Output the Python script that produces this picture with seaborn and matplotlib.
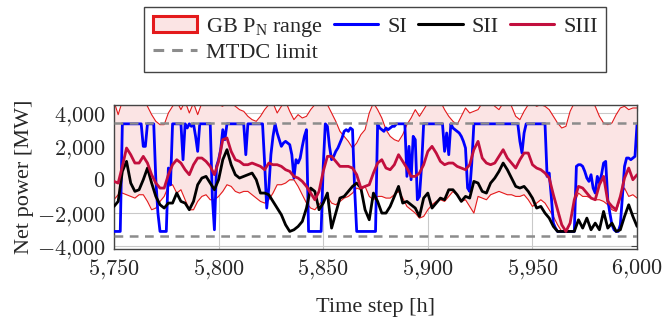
import numpy as np
import matplotlib
matplotlib.use("Agg")
import matplotlib.pyplot as plt
import matplotlib.ticker as mticker
from matplotlib.patches import Patch
from matplotlib.lines import Line2D
import seaborn as sns

# hourly time axis for SI, 2-hourly for the other series
t_si = np.arange(5750, 6001, 1)
t_2h = np.arange(5750, 6001, 2)

si = [
    -3100, -3100, -3100, -3100, 3350, 3350, 3350, 3350, 3350, 3350,   # 5750
    3350, 3350, 3350, 3350, 2000, 2000, 3350, 3350, 3350, 3350,       # 5760
    0, -2000, -3100, -3100, -3100, -3100, 700, -300, 3350, 3350,      # 5770
    3350, 3350, 3350, 1200, 3350, 3100, 3350, 3200, 3350, 2600,       # 5780
    1700, 3350, 3350, 3350, 3350, 3350, 3350, -1000, -3000, 800,      # 5790
    1200, 1800, 3000, 2400, 3350, 3350, 3350, 3350, 3350, 3350,       # 5800
    3350, 3350, 3350, 1500, 3350, 3350, 3350, 3350, 3350, 3350,       # 5810
    3350, 3350, 1000, -1700, -500, 1500, 2600, 3350, 2800, 2400,      # 5820
    2000, 2200, 2300, 2200, 2100, 1500, 100, 1200, 1000, 1300,        # 5830
    2000, 2600, 3000, -3100, -3100, -3100, -3100, -3100, -3100, -3100,  # 5840
    800, 3350, 3200, 2000, 1200, 1400, 1700, 1900, 2200, 2500,        # 5850
    2900, 3000, 2900, 3100, 3000, -500, -3100, -3100, -3100, -3100,   # 5860
    -3100, -3100, -3100, -3100, -3100, -3100, 3350, 3100, 3000, 2900,  # 5870
    3100, 3000, 3100, 3200, 3200, 3350, 3350, 3350, 3350, 3350,       # 5880
    200, 2000, 0, 2600, 2400, -1200, -1000, 800, 3350, 3350,          # 5890
    3350, 3350, 3350, 3350, 3350, 3350, 3350, 3350, 1700, 2800,       # 5900
    1500, 3350, 3100, 3000, 2900, 2800, 2600, 2300, 1900, -500,       # 5910
    -700, 1000, 3350, 3350, 3350, 3350, 3350, 3350, 3350, 3350,       # 5920
    3350, 3350, 3350, 3350, 3350, 3350, 3350, 3350, 3350, 3350,       # 5930
    3350, 3350, 3350, 3350, 2300, 1600, 2800, 3350, 3350, 3350,       # 5940
    3350, 3350, 3350, 3350, 3350, 3350, 3350, 200, 400, -1000,        # 5950
    -2600, -2900, -3100, -3100, -3100, -3100, -3100, -3100, -3100, -3100,  # 5960
    -3100, 800, 900, 900, 800, 500, 100, -100, 300, -500,             # 5970
    -800, 200, -200, 300, 1000, 1100, -1200, -2000, -2700, -3000,     # 5980
    -3100, -3100, -2700, -1000, 800, 1300, 1300, 1200, 1300, 1400,    # 5990
    3350,                                                             # 6000
]

sii = [
    -1600, -1300, 500, 1100, -200, -700, -600, 0, 700, -200,          # 5750
    -1000, -1500, -1700, -1400, -1400, -800, -1300, -1400, -1800, -1300,  # 5770
    -300, 100, 200, -200, -600, 0, 1200, 1800, 900, 300,              # 5790
    100, 200, 300, 400, 0, -800, -800, -900, -1300, -1700,            # 5810
    -2100, -2700, -3100, -3000, -2800, -2500, -1700, -500, -700, -1800,  # 5830
    -1400, -800, -2900, -2000, -1100, -1000, -700, -400, -200, -500,  # 5850
    -1800, -2400, -800, -1300, -2000, -2000, -1600, -1000, -400, -1400,  # 5870
    -1300, -1500, -1700, -2200, -1100, -800, -1700, -1400, -1100, -1200,  # 5890
    -600, -600, -900, -1300, -1000, -1100, -100, -200, -700, -800,    # 5910
    -200, 100, 500, 1000, 600, 100, -400, -500, -400, -700,           # 5930
    -1100, -1700, -1600, -2000, -2300, -2800, -3100, -3100, -3100, -3100,  # 5950
    -3100, -2400, -2900, -2300, -3000, -2600, -3000, -1900, -2900, -2600,  # 5970
    -3100, -3000, -2200, -1500, -2200, -2800,                         # 5990
]

siii = [
    -100, -200, 800, 1900, 1500, 1000, 1000, 1400, 1000, 300,         # 5750
    -200, -500, -500, 300, 900, 1200, 1000, 600, 300, 900,            # 5770
    1300, 1300, 1100, 800, 300, 1100, 2400, 2500, 1700, 1200,         # 5790
    1100, 900, 900, 1000, 900, 800, 600, 1000, 900, 900,              # 5810
    800, 600, 500, 200, 100, -100, -400, -800, -1200, -700,           # 5830
    500, 1400, 1400, 1100, 800, 800, 800, 700, 300, -500,             # 5850
    -400, -300, 400, 1000, 1200, 700, 600, 900, 1500, 1100,           # 5870
    700, 200, 200, 400, 900, 1700, 2000, 1600, 1100, 900,             # 5890
    1000, 1000, 800, 700, 600, 900, 1800, 2300, 1300, 1000,           # 5910
    900, 1000, 1400, 1800, 1300, 1000, 700, 1200, 1600, 1600,         # 5930
    900, 700, 600, 400, 100, -900, -1800, -2700, -3100, -2600,        # 5950
    -1200, -400, -500, -800, -1100, -1200, -300, 200, -1300, -1600,   # 5970
    -1800, -1000, 100, 700, 0, 300,                                   # 5990
]

gb_upper = [
    4700, 3900, 4700, 4800, 4800, 4700, 4800, 4800, 4400, 3900,       # 5750
    3500, 3300, 3300, 4000, 4400, 4700, 4200, 4700, 4000, 4600,       # 5770
    3900, 4600, 4500, 4800, 4900, 4500, 4400, 4900, 4600, 4400,       # 5790
    4200, 4100, 3800, 3600, 3500, 3800, 4200, 4500, 4600, 4000,       # 5810
    4400, 4700, 4100, 3600, 3900, 3700, 3800, 4200, 4500, 4600,       # 5830
    4700, 4500, 4000, 3500, 2900, 2600, 2300, 1900, 2200, 2700,       # 5850
    3000, 4000, 4600, 4200, 3700, 3000, 2600, 2400, 2300, 2700,       # 5870
    3300, 3700, 4200, 3800, 4200, 4600, 4800, 4500, 4700, 4200,       # 5890
    3800, 3500, 3300, 3800, 4300, 4000, 4100, 4200, 4600, 4800,       # 5910
    4700, 4400, 4200, 4600, 4800, 4400, 3800, 3600, 4100, 4500,       # 5930
    4600, 4400, 4500, 4400, 4200, 3800, 3400, 3100, 3200, 4100,       # 5950
    4600, 4800, 4900, 4800, 4700, 4400, 3800, 3400, 3300, 3400,       # 5970
    3900, 4300, 4400, 4200, 4300, 4300,                               # 5990
]

gb_lower = [
    -1200, -900, -800, -900, -1000, -1100, -900, -900, -1300, -1800,  # 5750
    -1700, -1300, -1000, -400, -300, -800, -600, -1200, -1800, -1800,  # 5770
    -1300, -1000, -900, -1200, -1200, -1000, -700, -300, -400, -700,  # 5790
    -800, -700, -700, -900, -1100, -1300, -1400, -1200, -800, -300,   # 5810
    -300, -200, 0, 0, -400, -900, -1400, -1700, -1800, -1500,         # 5830
    -1200, -1000, -1400, -1500, -1300, -1100, -1000, -800, -500, -600,  # 5850
    -400, -1000, -1200, -1000, -1000, -1100, -1100, -900, -700, -1100,  # 5870
    -1600, -1800, -2000, -2300, -2200, -1800, -1500, -1300, -1200, -1300,  # 5890
    -1000, -700, -900, -1300, -1200, -1600, -2000, -1000, -1100, -1200,  # 5910
    -900, -800, -700, -800, -900, -900, -1000, -1000, -900, -1200,    # 5930
    -1600, -1400, -1200, -1400, -1800, -2200, -2700, -3100, -3100, -2600,  # 5950
    -1400, -800, -1000, -1000, -1100, -1200, -1200, -1300, -1500, -1800,  # 5970
    -1900, -1100, -500, -1000, -900, -1100,                           # 5990
]

mtdc_limit = 3400
x_ticks = [5750, 5800, 5850, 5900, 5950, 6000]
y_ticks = [-4000, -2000, 0, 2000, 4000]

sns.set_theme(style="white")
plt.rcParams["font.family"] = ["Liberation Serif", "DejaVu Serif"]
plt.rcParams["mathtext.fontset"] = "cm"
plt.rcParams["font.size"] = 16

range_red = "#e41a1c"
range_fill = "#fbe4e4"
siii_col = "#c20f3e"
dash_grey = "#8c8c8c"

fig = plt.figure(figsize=(6.65, 3.2), dpi=100)
ax = fig.add_axes([0.1714, 0.222, 0.7866, 0.451])

ax.fill_between(t_2h, gb_lower, gb_upper, color=range_fill, lw=0, zorder=1)
sns.lineplot(x=t_2h, y=gb_upper, ax=ax, color=range_red, lw=0.8, zorder=2)
sns.lineplot(x=t_2h, y=gb_lower, ax=ax, color=range_red, lw=0.8, zorder=2)
sns.lineplot(x=t_si, y=si, ax=ax, color="#0000ff", lw=2.0, zorder=3)
sns.lineplot(x=t_2h, y=sii, ax=ax, color="black", lw=2.0, zorder=4)
sns.lineplot(x=t_2h, y=siii, ax=ax, color=siii_col, lw=2.0, zorder=5)
dash = (0, (3.5, 2.6))
ax.axhline(mtdc_limit, color=dash_grey, lw=1.8, ls=dash, zorder=6)
ax.axhline(-mtdc_limit, color=dash_grey, lw=1.8, ls=dash, zorder=6)

ax.set_xlim(5750, 6000)
ax.set_ylim(-4150, 4500)
ax.set_xticks(x_ticks)
ax.set_yticks(y_ticks)


def fmt(v, pos):
    s = f"{v:,.0f}".replace(",", "{,}")
    return f"${s}$"


ax.xaxis.set_major_formatter(mticker.FuncFormatter(fmt))
ax.yaxis.set_major_formatter(mticker.FuncFormatter(fmt))
ax.tick_params(direction="in", length=4, width=0.8, color="#444444",
               top=True, right=True, labelsize=16, pad=6)
ax.grid(True, color="#c9c9c9", lw=0.8, zorder=0)
ax.set_axisbelow(True)
for sp in ax.spines.values():
    sp.set_color("#444444")
    sp.set_linewidth(1.0)

ax.set_xlabel("Time step [h]", fontsize=16, labelpad=12)
ax.set_ylabel("Net power [MW]", fontsize=16, labelpad=2)

handles = [
    Patch(facecolor=range_fill, edgecolor=range_red, lw=2.2),
    Line2D([], [], color=dash_grey, lw=2.2, ls=dash),
    Line2D([], [], color="#0000ff", lw=2.2),
    Line2D([], [], color="black", lw=2.2),
    Line2D([], [], color=siii_col, lw=2.2),
]
labels = [r"GB $\mathregular{P_N}$ range", "MTDC limit", "SI", "SII", "SIII"]
leg = fig.legend(handles, labels, ncol=4, loc="upper center",
                 bbox_to_anchor=(0.564, 0.978), fontsize=16, frameon=True,
                 fancybox=False, edgecolor="#444444", framealpha=1,
                 borderpad=0.4, labelspacing=0.15, handlelength=2.0,
                 handletextpad=0.4, columnspacing=0.5, borderaxespad=0)
leg.get_frame().set_linewidth(1.0)

fig.savefig("out.png", dpi=100)
